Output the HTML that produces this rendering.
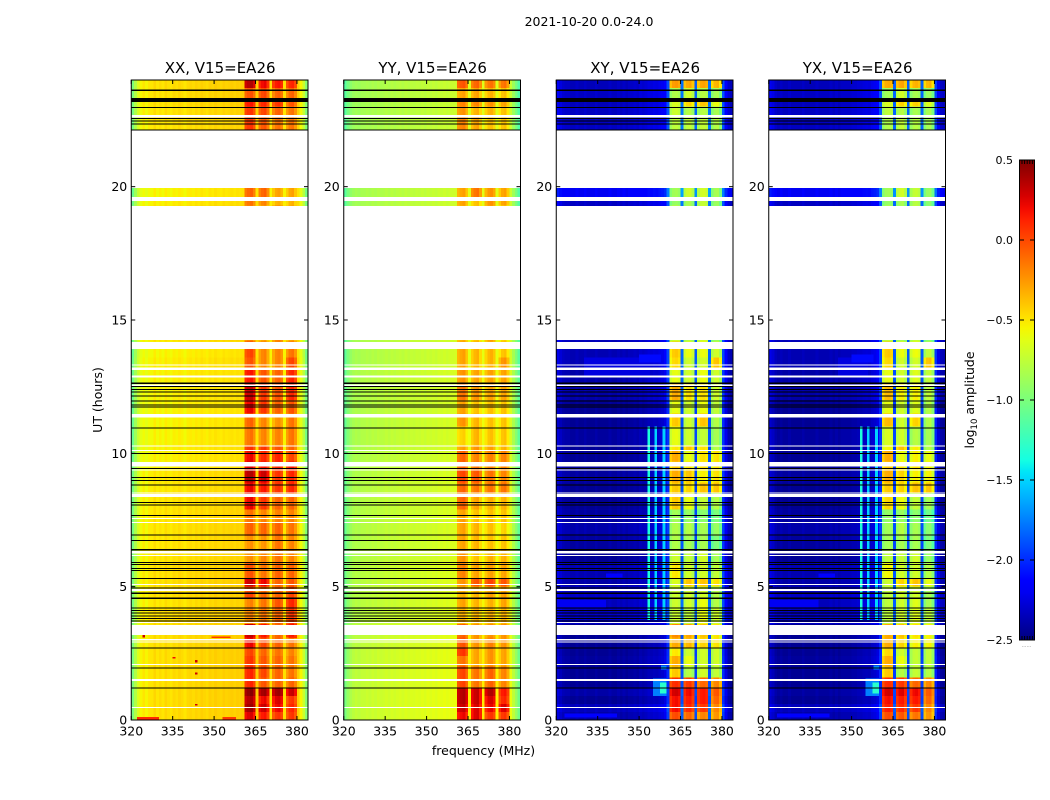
<!DOCTYPE html>
<html>
<head>
<meta charset="utf-8">
<title>2021-10-20 0.0-24.0</title>
<style>
html,body{margin:0;padding:0;background:#fff;}
svg{display:block;font-family:"DejaVu Sans","Liberation Sans",sans-serif;fill:#000;}
</style>
</head>
<body>
<svg id="fig" width="1050" height="800" viewBox="0 0 1050 800" xmlns="http://www.w3.org/2000/svg">
<text x="589" y="26" font-size="12.5" text-anchor="middle">2021-10-20 0.0-24.0</text>
<text x="102" y="400" font-size="12.5" text-anchor="middle" transform="rotate(-90 102 400)">UT (hours)</text>
<text x="483.5" y="755" font-size="12.5" text-anchor="middle">frequency (MHz)</text>
<text x="974" y="400" font-size="12.5" text-anchor="middle" transform="rotate(-90 974 400)">log<tspan font-size="8.5" dy="3">10</tspan><tspan dy="-3"> amplitude</tspan></text>
</svg>
<script>
// Panel names
var panelTitles = ["XX, V15=EA26", "YY, V15=EA26", "XY, V15=EA26", "YX, V15=EA26"];
// Axis ticks
var xTickValues = [320, 335, 350, 365, 380];
var yTickValues = [0, 5, 10, 15, 20];
var colorbarTicks = [-2.5, -2.0, -1.5, -1.0, -0.5, 0.0, 0.5];
var colorbarLabels = ["\u22122.5", "\u22122.0", "\u22121.5", "\u22121.0", "\u22120.5", "0.0", "0.5"];
// Time row start hours (UT)
var rowStarts = [0,.3,.6,.9,1.2,1.6,2,2.4,2.7,3.1,3.6,4.2,4.6,5,5.3,5.9,6.4,6.9,7.4,7.9,8.5,8.9,9.4,9.7,10.1,10.3,11,11.5,12,12.6,13.2,13.6,14.2,19.3,19.6,22.1,22.6,23,23.3,23.7];
// Flagged white gaps [start hour, end hour]
var whiteGaps = [[.45,.49],[1.46,1.53],[2.06,2.1],[2.9,2.94],[2.99,3.04],[3.19,3.56],[3.63,3.67],[4.84,4.91],[5.06,5.1],[6.15,6.19],[6.24,6.34],[7.39,7.43],[7.53,7.57],[8.36,8.48],[8.49,8.53],[9.35,9.4],[9.5,9.68],[10.09,10.13],[10.26,10.3],[11.35,11.48],[12.53,12.59],[12.84,12.91],[13.125,13.21],[13.29,13.34],[13.91,14.18],[14.25,19.28],[19.46,19.61],[19.95,22.1],[22.6,22.69]];
// Black scan boundaries [start hour, end hour]
var blackLines = [[1.175,1.21],[1.93,1.965],[2.68,2.715],[3.7,3.735],[3.79,3.825],[3.89,3.925],[3.99,4.025],[4.09,4.125],[4.19,4.225],[4.53,4.6],[4.72,4.79],[4.94,4.975],[5.29,5.325],[5.59,5.625],[5.67,5.705],[5.82,5.855],[5.89,5.925],[6.35,6.42],[6.72,6.755],[6.92,6.955],[7.66,7.695],[8.04,8.075],[8.14,8.175],[8.79,8.825],[8.97,9.005],[9.08,9.115],[9.42,9.455],[9.98,10.015],[10.93,10.965],[11.72,11.755],[11.79,11.825],[11.95,11.985],[12.13,12.165],[12.29,12.325],[12.38,12.415],[12.49,12.525],[12.6,12.665],[22.1,22.14],[22.34,22.375],[22.44,22.475],[22.54,22.575],[22.96,22.995],[23.18,23.33],[23.58,23.65]];
// Spectral shapes: log10 amplitude for each 1 MHz bin from 320 MHz (in-band bins relative to the band level)
var shapeXX = [-1.0,-.8,-.65,-.55,-.5,-.55,-.5,-.5,-.45,-.5,-.47,-.5,-.45,-.48,-.5,-.46,-.48,-.45,-.47,-.5,-.46,-.45,-.47,-.44,-.46,-.43,-.45,-.47,-.43,-.45,-.42,-.44,-.45,-.42,-.44,-.43,-.42,-.44,-.42,-.43,-.42,-.05,0,.03,-.08,-.42,-.08,0,.03,-.12,-.48,-.1,0,.03,-.05,-.48,-.12,0,.03,-.1,-.42,-.55,-.72,-.95];
var shapeYY = [-1.08,-.96,-.88,-.83,-.8,-.82,-.79,-.79,-.77,-.79,-.76,-.78,-.75,-.77,-.76,-.74,-.76,-.73,-.75,-.73,-.72,-.74,-.71,-.73,-.71,-.72,-.7,-.71,-.69,-.71,-.68,-.7,-.68,-.7,-.67,-.68,-.66,-.68,-.66,-.66,-.65,-.05,0,.03,-.1,-.58,-.08,0,.03,-.12,-.58,-.1,0,.03,-.05,-.58,-.12,0,.03,-.12,-.66,-.82,-.95,-1.1];
var shapeXY = [-2.3,-2.35,-2.4,-2.42,-2.42,-2.45,-2.45,-2.42,-2.45,-2.45,-2.42,-2.45,-2.45,-2.45,-2.42,-2.45,-2.45,-2.45,-2.45,-2.42,-2.45,-2.45,-2.42,-2.45,-2.42,-2.45,-2.42,-2.42,-2.4,-2.42,-2.38,-2.4,-2.38,-2.35,-2.36,-2.34,-2.35,-2.32,-2.3,-2.25,-2.0,-.12,-.02,0,-.05,-1.9,-.08,0,.02,-.1,-1.95,-.1,0,.02,-.03,-1.9,-.12,0,.02,-.15,-2.0,-2.25,-2.4,-2.45];
var shapeYX = [-2.3,-2.35,-2.42,-2.45,-2.42,-2.45,-2.45,-2.42,-2.45,-2.45,-2.45,-2.45,-2.42,-2.45,-2.45,-2.45,-2.45,-2.42,-2.45,-2.45,-2.45,-2.45,-2.42,-2.45,-2.42,-2.45,-2.42,-2.42,-2.42,-2.42,-2.4,-2.4,-2.38,-2.38,-2.36,-2.35,-2.36,-2.32,-2.3,-2.25,-2.0,-.12,-.02,0,-.05,-1.95,-.08,0,.02,-.1,-1.95,-.1,0,.02,-.03,-1.95,-.12,0,.02,-.15,-2.05,-2.3,-2.42,-2.45];
// Per-row levels: [out-of-band offset, band1, band2, band3, band4]
var levelsXX = [[0,.25,.15,.05,.05],[0,.4,.3,.2,.1],[0,.35,.2,.25,.05],[0,.45,.4,.4,.3],[0,.1,-.05,-.1,-.1],[0,.1,0,-.1,-.15],[0,.05,-.05,-.1,-.15],[0,0,-.1,-.15,-.2],[0,.2,0,-.1,-.15],[0,.3,.15,-.1,.15],[0,-.2,-.15,-.1,.05],[-.02,-.2,-.15,-.05,.1],[0,0,-.1,-.1,0],[0,.3,.2,-.1,-.05],[0,-.05,-.15,-.1,-.1],[-.02,-.25,-.2,-.15,-.2],[-.02,-.25,-.25,-.15,-.2],[-.02,-.1,-.1,-.1,-.15],[-.02,-.15,-.2,-.2,-.2],[-.02,.2,.05,-.1,-.1],[-.03,.2,.15,.05,.1],[-.03,.35,.3,.05,.1],[-.06,.25,.15,.1,.15],[-.06,.2,.1,.1,0],[-.06,.05,.05,-.05,-.1],[-.07,-.15,-.2,-.2,-.15],[-.07,-.1,-.2,-.25,-.15],[-.07,.2,.05,-.1,-.05],[-.06,.3,.05,-.05,.1],[-.06,.15,-.05,-.1,.1],[-.05,-.05,-.2,-.2,0],[-.07,0,-.2,-.2,-.15],[-.02,-.2,-.3,-.2,-.3],[-.05,-.15,-.2,-.35,-.35],[-.07,-.1,-.1,-.3,-.3],[-.02,.05,-.05,-.15,-.15],[-.02,.05,0,-.1,-.15],[0,.15,.1,.05,-.05],[0,-.05,0,-.1,-.1],[0,.35,.2,.15,.1]];
var levelsYY = [[.06,.2,.25,.05,.05],[.06,.3,.25,.2,.25],[.06,.35,.3,.25,.1],[.06,.35,.3,.35,.15],[.05,0,-.15,-.1,-.2],[.05,0,-.15,-.1,-.2],[.05,-.15,-.3,-.25,-.3],[.05,.05,-.3,-.25,-.3],[.04,-.05,-.25,-.2,-.25],[.04,-.1,-.25,-.25,-.25],[.02,-.35,-.35,-.35,-.35],[.02,-.3,-.35,-.35,-.3],[.02,-.35,-.35,-.3,-.3],[.02,-.25,-.05,0,-.05],[.02,-.2,-.3,-.3,-.3],[0,-.25,-.4,-.35,-.35],[0,-.3,-.35,-.4,-.4],[0,-.3,-.35,-.4,-.45],[0,-.3,-.4,-.4,-.4],[0,-.1,-.3,-.35,-.35],[0,-.1,-.15,-.15,-.15],[0,0,-.05,-.15,-.2],[0,-.1,-.15,-.2,-.2],[-.01,-.1,-.2,-.2,-.2],[-.01,-.3,-.25,-.3,-.35],[-.01,-.45,-.35,-.4,-.4],[-.01,-.25,-.35,-.4,-.4],[-.01,-.3,-.4,-.4,-.4],[-.01,-.15,-.25,-.3,-.3],[-.01,-.25,-.3,-.3,-.3],[-.03,-.3,-.35,-.35,-.25],[-.03,-.3,-.35,-.35,-.4],[-.03,-.35,-.4,-.3,-.45],[-.05,-.3,-.4,-.25,-.3],[-.05,-.3,-.15,-.25,-.3],[-.06,-.2,-.3,-.4,-.4],[-.06,-.25,-.35,-.35,-.4],[-.06,-.2,-.2,-.25,-.3],[-.06,-.3,-.3,-.35,-.4],[-.06,-.05,-.1,-.15,-.15]];
var levelsXY = [[.05,0,-.1,-.2,-.25],[.1,.2,.1,.05,-.2],[0,.2,.15,.15,-.1],[.05,.3,.2,.15,-.05],[0,.1,.05,-.1,-.2],[0,-.4,-.8,-.7,-.75],[.02,-.3,-.6,-.7,-.7],[0,-.5,-.7,-.7,-.7],[0,-.3,-.35,-.45,-.5],[0,-.2,-.3,-.4,-.5],[.12,-.7,-.75,-.6,-.7],[.1,-.7,-.7,-.6,-.8],[.12,-.7,-.7,-.7,-.8],[.05,-.65,-.4,-.4,-.5],[.08,-.5,-.7,-.7,-.75],[0,-.7,-.75,-.7,-.85],[.03,-.8,-.85,-.85,-1],[.06,-.8,-.8,-.85,-.9],[.03,-.85,-.9,-.95,-1],[0,-.4,-.6,-.75,-.8],[0,-.4,-.45,-.4,-.4],[.03,-.3,-.4,-.55,-.5],[0,-.4,-.5,-.5,-.5],[0,-.3,-.6,-.5,-.5],[0,-.5,-.4,-.5,-.8],[.03,-.6,-.7,-.75,-.85],[0,-.4,-.7,-.4,-.8],[0,-.6,-.7,-.6,-.75],[.05,-.3,-.5,-.5,-.7],[.05,-.6,-.7,-.6,-.7],[.08,-.45,-.7,-.7,-.4],[.08,-.4,-.6,-.6,-.7],[.1,-.7,-.8,-.7,-.9],[.12,-.9,-.85,-.75,-.9],[.25,-.85,-.7,-.7,-.85],[.12,-.75,-.75,-.75,-.8],[.12,-.7,-.8,-.8,-.85],[.1,-.65,-.45,-.4,-.6],[.12,-.8,-.7,-.8,-.85],[.1,-.25,-.3,-.3,-.35]];
var levelsYX = [[.05,0,-.05,-.15,-.25],[.1,.15,.1,.05,-.2],[0,.2,.15,.15,-.1],[.03,.3,.25,.2,-.05],[0,.1,.05,-.1,-.2],[0,-.4,-.8,-.75,-.8],[.02,-.3,-.6,-.75,-.75],[0,-.45,-.7,-.75,-.75],[0,-.3,-.45,-.55,-.55],[0,-.3,-.4,-.5,-.55],[.12,-.75,-.7,-.65,-.75],[.1,-.75,-.7,-.65,-.85],[.12,-.75,-.7,-.7,-.85],[.05,-.7,-.45,-.4,-.6],[.08,-.55,-.7,-.7,-.8],[0,-.75,-.75,-.7,-.9],[.03,-.85,-.85,-.85,-1],[.06,-.85,-.8,-.85,-.95],[.03,-.9,-.9,-.95,-1.05],[0,-.45,-.6,-.75,-.85],[0,-.4,-.45,-.4,-.4],[.03,-.3,-.45,-.55,-.55],[0,-.4,-.5,-.5,-.55],[0,-.3,-.6,-.55,-.6],[0,-.55,-.4,-.55,-.8],[.03,-.65,-.7,-.8,-.85],[0,-.35,-.7,-.45,-.8],[0,-.6,-.7,-.65,-.8],[.05,-.35,-.55,-.55,-.75],[.05,-.6,-.7,-.65,-.75],[.08,-.45,-.7,-.7,-.4],[.08,-.4,-.6,-.6,-.75],[.1,-.75,-.85,-.75,-.95],[.12,-.9,-.85,-.8,-.95],[.25,-.85,-.7,-.75,-.9],[.12,-.8,-.75,-.8,-.85],[.12,-.75,-.8,-.85,-.85],[.1,-.65,-.45,-.45,-.65],[.12,-.85,-.7,-.85,-.9],[.1,-.3,-.3,-.35,-.35]];
// Sparse features: [panel, start MHz, end MHz, start hour, end hour, log10 amplitude]
var features = [
[0,322,330,.02,.12,.1],[0,353,358,.02,.12,.05],[0,349,356,3.07,3.13,.05],[0,377,380,3.07,3.13,.1],[0,324,325,3.1,3.25,.3],[0,335,336,2.3,2.36,.2],[0,343,344,2.15,2.25,.3],[0,343,344,1.7,1.78,.3],[0,343,344,.55,.6,.3],
[2,353,354,3.75,11,-1.35],[2,355.5,356.5,3.75,11,-1.5],[2,358.5,359.5,3.75,11,-1.5],[2,355,360,.9,1.55,-1.75],[2,357.5,360,1.0,1.4,-1.3],[2,358,360,1.9,2.05,-1.7],[2,320,338,4.2,4.5,-2.2],[2,338,344,5.35,5.5,-2.15],[2,323,342,.1,.25,-2.15],[2,330,354,12.9,13.6,-2.25],[2,350,358,13.4,13.7,-2.1],
[3,353,354,3.75,11,-1.35],[3,355.5,356.5,3.75,11,-1.5],[3,358.5,359.5,3.75,11,-1.5],[3,355,360,.9,1.55,-1.75],[3,357.5,360,1.0,1.4,-1.3],[3,358,360,1.9,2.05,-1.7],[3,320,338,4.2,4.5,-2.2],[3,338,344,5.35,5.5,-2.15],[3,323,342,.1,.25,-2.15],[3,345,356,12.9,13.6,-2.25],[3,350,358,13.4,13.7,-2.1]
];

var NS = "http://www.w3.org/2000/svg";
var fig = document.getElementById("fig");
var panelShapes = [shapeXX, shapeYY, shapeXY, shapeYX];
var panelLevels = [levelsXX, levelsYY, levelsXY, levelsYX];
var panelLeft = [131.25, 343.75, 556.25, 768.75];
var panelWidth = 176.75, panelTop = 80, panelBottom = 720;
var fMin = 320, fMax = 384, tMin = 0, tMax = 24;
var vMin = -2.5, vMax = 0.5;

function xScale(panel, f) { return panelLeft[panel] + (f - fMin) / (fMax - fMin) * panelWidth; }
function yScale(t) { return panelBottom - (t - tMin) / (tMax - tMin) * (panelBottom - panelTop); }
function cbScale(v) { return 640 - (v - vMin) / (vMax - vMin) * 480; }
function interp(pts, t) {
  for (var i = 1; i < pts.length; i++) {
    if (t <= pts[i][0]) { return pts[i-1][1] + (pts[i][1] - pts[i-1][1]) * (t - pts[i-1][0]) / (pts[i][0] - pts[i-1][0]); }
  }
  return pts[pts.length-1][1];
}
function jet(t) {
  t = Math.max(0, Math.min(1, t));
  var r = interp([[0,0],[.35,0],[.66,1],[.89,1],[1,.5]], t);
  var g = interp([[0,0],[.125,0],[.375,1],[.64,1],[.91,0],[1,0]], t);
  var b = interp([[0,.5],[.11,1],[.34,1],[.65,0],[1,0]], t);
  return "rgb(" + Math.round(r*255) + "," + Math.round(g*255) + "," + Math.round(b*255) + ")";
}
function valueColor(v) { return jet((v - vMin) / (vMax - vMin)); }
function bandOf(f) {
  if (f >= 361 && f <= 364) return 0;
  if (f >= 366 && f <= 369) return 1;
  if (f >= 371 && f <= 374) return 2;
  if (f >= 376 && f <= 379) return 3;
  return -1;
}
function makeRect(parent, x, y, w, h, fill) {
  var r = document.createElementNS(NS, "rect");
  r.setAttribute("x", x);
  r.setAttribute("y", y);
  r.setAttribute("width", w);
  r.setAttribute("height", h);
  r.setAttribute("fill", fill);
  parent.appendChild(r);
  return r;
}
function makeText(parent, x, y, size, anchor, str) {
  var t = document.createElementNS(NS, "text");
  t.setAttribute("x", x);
  t.setAttribute("y", y);
  t.setAttribute("font-size", size);
  t.setAttribute("text-anchor", anchor);
  t.textContent = str;
  parent.appendChild(t);
  return t;
}
function makeLine(parent, x1, y1, x2, y2) {
  var l = document.createElementNS(NS, "line");
  l.setAttribute("x1", x1);
  l.setAttribute("y1", y1);
  l.setAttribute("x2", x2);
  l.setAttribute("y2", y2);
  l.setAttribute("stroke", "#000");
  l.setAttribute("stroke-width", "1");
  parent.appendChild(l);
  return l;
}

panelTitles.forEach(function (title, p) {
  var g = document.createElementNS(NS, "g");
  
  
  fig.appendChild(g);

  var cells = document.createElementNS(NS, "g");
  
  
  cells.setAttribute("shape-rendering", "crispEdges");
  g.appendChild(cells);

  var shape = panelShapes[p], levels = panelLevels[p];
  rowStarts.forEach(function (t0, r) {
    var t1 = r + 1 < rowStarts.length ? rowStarts[r + 1] : tMax;
    var yTop = yScale(t1), yBot = yScale(t0);
    shape.forEach(function (sv, i) {
      var f = fMin + i, b = bandOf(f);
      var v = sv + (b >= 0 ? levels[r][b + 1] : levels[r][0]);
      var x0 = xScale(p, f), x1 = xScale(p, f + 1);
      var cell = makeRect(cells, x0, yTop, x1 - x0 + .3, yBot - yTop, valueColor(v));
      
      
    });
  });
  features.forEach(function (s) {
    if (s[0] !== p) return;
    var x0 = xScale(p, s[1]), x1 = xScale(p, s[2]), y0 = yScale(s[4]), y1 = yScale(s[3]);
    var cell = makeRect(cells, x0, y0, x1 - x0, y1 - y0, valueColor(s[5]));
    
    
  });
  whiteGaps.forEach(function (s) {
    var y0 = yScale(s[1]), y1 = yScale(s[0]);
    var gap = makeRect(cells, panelLeft[p], y0, panelWidth, Math.max(1, y1 - y0), "#fff");
    
    
  });
  blackLines.forEach(function (s) {
    var y0 = yScale(s[1]), y1 = yScale(s[0]);
    var line = makeRect(cells, panelLeft[p], y0, panelWidth, Math.max(1, y1 - y0), "#000");
    
    
  });

  var frame = document.createElementNS(NS, "rect");
  
  
  frame.setAttribute("x", panelLeft[p]);
  frame.setAttribute("y", panelTop);
  frame.setAttribute("width", panelWidth);
  frame.setAttribute("height", panelBottom - panelTop);
  frame.setAttribute("fill", "none");
  frame.setAttribute("stroke", "#000");
  frame.setAttribute("stroke-width", "1");
  g.appendChild(frame);

  xTickValues.forEach(function (v) {
    var x = xScale(p, v);
    var tb = makeLine(g, x, panelBottom, x, panelBottom - 4);
    
    
    var tt = makeLine(g, x, panelTop, x, panelTop + 4);
    
    
    var lab = makeText(g, x, panelBottom + 15.5, 12.5, "middle", String(v));
    
    
  });
  yTickValues.forEach(function (v) {
    var y = yScale(v);
    var tl = makeLine(g, panelLeft[p], y, panelLeft[p] + 4, y);
    
    
    var tr = makeLine(g, panelLeft[p] + panelWidth, y, panelLeft[p] + panelWidth - 4, y);
    
    
    var lab = makeText(g, panelLeft[p] - 4, y + 4.5, 12.5, "end", String(v));
    
    
  });
  var ttl = makeText(g, panelLeft[p] + panelWidth / 2 + .5, 73, 15, "middle", title);
  
  
});

// Colorbar
var defs = document.createElementNS(NS, "defs");
var grad = document.createElementNS(NS, "linearGradient");
grad.setAttribute("id", "jetGrad");
grad.setAttribute("x1", "0");
grad.setAttribute("y1", "1");
grad.setAttribute("x2", "0");
grad.setAttribute("y2", "0");
for (var s = 0; s <= 40; s++) {
  var stop = document.createElementNS(NS, "stop");
  stop.setAttribute("offset", s / 40);
  stop.setAttribute("stop-color", jet(s / 40));
  grad.appendChild(stop);
}
defs.appendChild(grad);
fig.appendChild(defs);

var cb = document.createElementNS(NS, "g");


fig.appendChild(cb);
var cbRect = makeRect(cb, 1019.5, 160, 15, 480, "url(#jetGrad)");
cbRect.setAttribute("stroke", "#000");
cbRect.setAttribute("stroke-width", "1");


colorbarTicks.forEach(function (v, i) {
  var y = cbScale(v);
  var a = makeLine(cb, 1019.5, y, 1024, y);
  
  
  var b = makeLine(cb, 1034.5, y, 1030, y);
  
  
  var lab = makeText(cb, 1013, y + 4, 11, "end", colorbarLabels[i]);
  
  
});
for (var k = 0; k < 5; k++) {
  var cx = 1022 + k * 2.6;
  var up = makeLine(cb, cx, 160, cx, 164);
  
  
  var dn = makeLine(cb, cx, 640, cx, 636);
  
  
}
var dots = makeText(cb, 1026.5, 647, 5, "middle", "......");
dots.setAttribute("fill", "#777");


</script>
</body>
</html>
